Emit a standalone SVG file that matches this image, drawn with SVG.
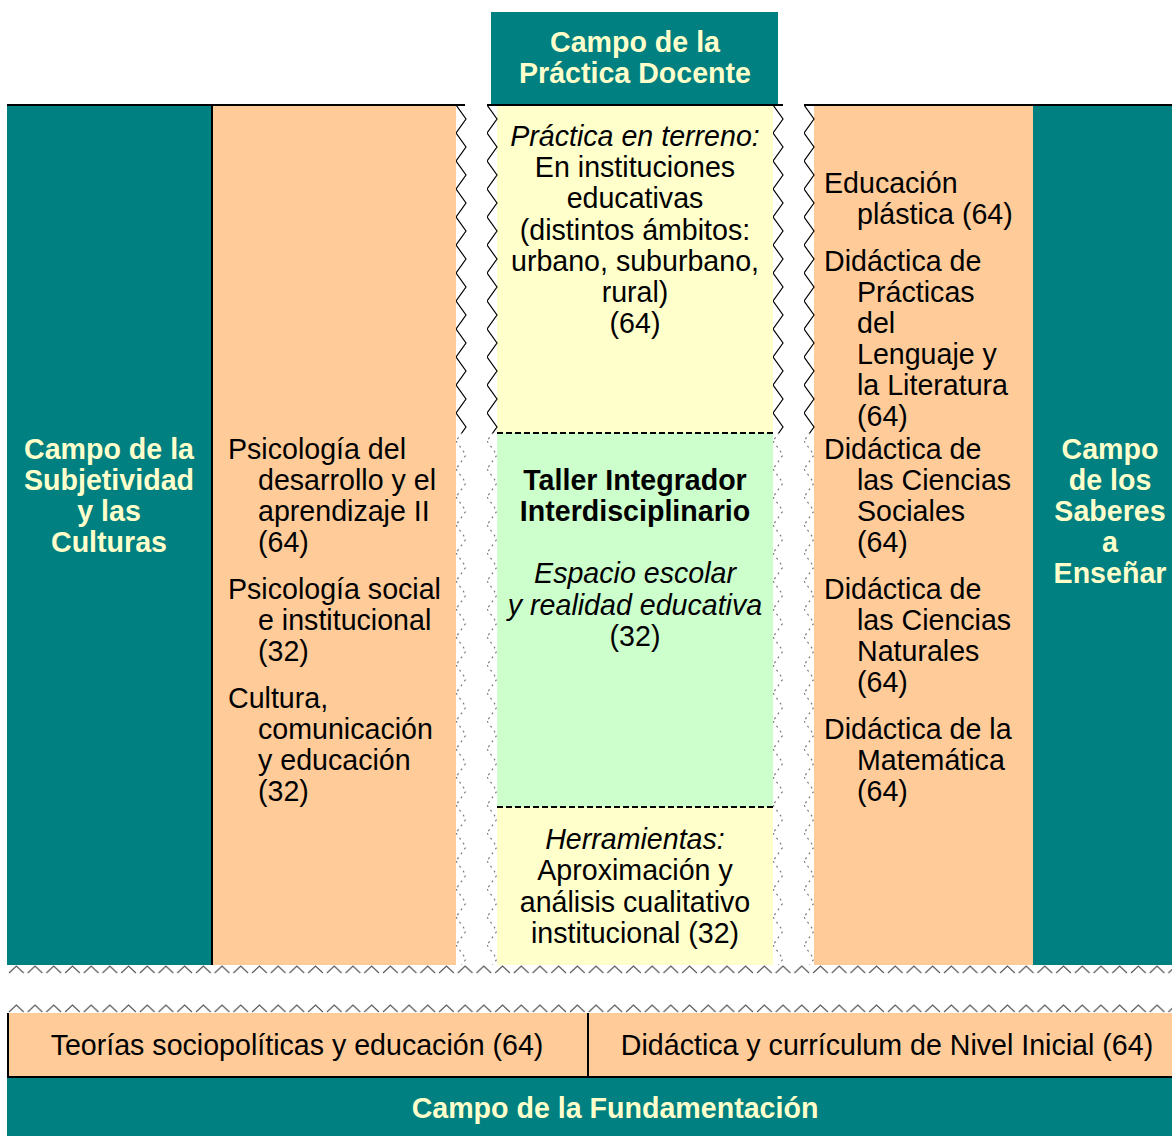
<svg xmlns="http://www.w3.org/2000/svg" width="1172" height="1136" viewBox="0 0 1172 1136">
<style>
.teal{fill:#008080}
.peach{fill:#FFCC99}
.yel{fill:#FFFFCC}
.grn{fill:#CCFFCC}
text{font-family:"Liberation Sans",Arial,sans-serif;font-size:28.6px;fill:#000}
.h{font-weight:bold;fill:#FFFFCC;text-anchor:middle}
.b{font-weight:bold}
.i{font-style:italic}
.c{text-anchor:middle}
</style>
<defs>
<pattern id="zv" patternUnits="userSpaceOnUse" width="12" height="28">
<path d="M0,0 L10,14 L0,28" fill="none" stroke="#000" stroke-width="1.2"/>
</pattern>
<pattern id="zvf" patternUnits="userSpaceOnUse" width="12" height="28">
<path d="M0,0 L10,14 L0,28" fill="none" stroke="#777" stroke-width="1.2" stroke-dasharray="2 4"/>
</pattern>
<pattern id="zh" patternUnits="userSpaceOnUse" width="18.7" height="9">
<path d="M2,8 L9.35,1 L16.7,8" fill="none" stroke="#555" stroke-width="1.1"/>
</pattern>
</defs>

<g id="practica-head">
<rect class="teal" x="491" y="12" width="287" height="93"/>
<text class="h" x="635" y="52">Campo de la</text>
<text class="h" x="635" y="83">Práctica Docente</text>
</g>

<g id="subjetividad">
<rect class="teal" x="7" y="105" width="205" height="860"/>
<text class="h" x="109" y="459">Campo de la</text>
<text class="h" x="109" y="490">Subjetividad</text>
<text class="h" x="109" y="521">y las</text>
<text class="h" x="109" y="552">Culturas</text>
</g>

<g id="psicologia">
<rect class="peach" x="212" y="105" width="244" height="860"/>
<text x="228" y="459">Psicología del</text>
<text x="258" y="490">desarrollo y el</text>
<text x="258" y="521">aprendizaje II</text>
<text x="258" y="552">(64)</text>
<text x="228" y="599">Psicología social</text>
<text x="258" y="630">e institucional</text>
<text x="258" y="661">(32)</text>
<text x="228" y="708">Cultura,</text>
<text x="258" y="739">comunicación</text>
<text x="258" y="770">y educación</text>
<text x="258" y="801">(32)</text>
</g>

<g id="centro">
<rect class="yel" x="497" y="105" width="276" height="328"/>
<rect class="grn" x="497" y="433" width="276" height="374"/>
<rect class="yel" x="497" y="807" width="276" height="158"/>
<text class="c i" x="635" y="146">Práctica en terreno:</text>
<text class="c" x="635" y="177">En instituciones</text>
<text class="c" x="635" y="208">educativas</text>
<text class="c" x="635" y="240">(distintos ámbitos:</text>
<text class="c" x="635" y="271">urbano, suburbano,</text>
<text class="c" x="635" y="302">rural)</text>
<text class="c" x="635" y="333">(64)</text>
<text class="c b" x="635" y="490">Taller Integrador</text>
<text class="c b" x="635" y="521">Interdisciplinario</text>
<text class="c i" x="635" y="583">Espacio escolar</text>
<text class="c i" x="635" y="615">y realidad educativa</text>
<text class="c" x="635" y="646">(32)</text>
<text class="c i" x="635" y="849">Herramientas:</text>
<text class="c" x="635" y="880">Aproximación y</text>
<text class="c" x="635" y="912">análisis cualitativo</text>
<text class="c" x="635" y="943">institucional (32)</text>
</g>

<g id="didacticas">
<rect class="peach" x="814" y="105" width="219" height="860"/>
<text x="824" y="193">Educación</text>
<text x="857" y="224">plástica (64)</text>
<text x="824" y="271">Didáctica de</text>
<text x="857" y="302">Prácticas</text>
<text x="857" y="333">del</text>
<text x="857" y="364">Lenguaje y</text>
<text x="857" y="395">la Literatura</text>
<text x="857" y="426">(64)</text>
<text x="824" y="459">Didáctica de</text>
<text x="857" y="490">las Ciencias</text>
<text x="857" y="521">Sociales</text>
<text x="857" y="552">(64)</text>
<text x="824" y="599">Didáctica de</text>
<text x="857" y="630">las Ciencias</text>
<text x="857" y="661">Naturales</text>
<text x="857" y="692">(64)</text>
<text x="824" y="739">Didáctica de la</text>
<text x="857" y="770">Matemática</text>
<text x="857" y="801">(64)</text>
</g>

<g id="saberes">
<rect class="teal" x="1033" y="105" width="139" height="860"/>
<text class="h" x="1110" y="459">Campo</text>
<text class="h" x="1110" y="490">de los</text>
<text class="h" x="1110" y="521">Saberes</text>
<text class="h" x="1110" y="552">a</text>
<text class="h" x="1110" y="583">Enseñar</text>
</g>

<g id="teorias">
<rect class="peach" x="7" y="1013" width="581" height="65"/>
<text class="c" x="297" y="1055">Teorías sociopolíticas y educación (64)</text>
</g>

<g id="didactica-curriculum">
<rect class="peach" x="588" y="1013" width="584" height="65"/>
<text class="c" x="887" y="1055">Didáctica y currículum de Nivel Inicial (64)</text>
</g>

<g id="fundamentacion">
<rect class="teal" x="7" y="1078" width="1165" height="58"/>
<text class="h" x="615" y="1118">Campo de la Fundamentación</text>
</g>

<g id="connectors">
<rect x="7" y="104" width="458" height="2" fill="#000"/>
<rect x="487" y="104" width="296" height="2" fill="#000"/>
<rect x="804" y="104" width="368" height="2" fill="#000"/>
<rect x="211" y="105" width="2" height="860" fill="#000"/>
<rect x="7" y="1013" width="2" height="65" fill="#000"/>
<rect x="587" y="1013" width="2" height="65" fill="#000"/>
<rect x="7" y="1076" width="1165" height="2" fill="#000"/>
<line x1="497" y1="433" x2="773" y2="433" stroke="#000" stroke-width="2" stroke-dasharray="6 3"/>
<line x1="497" y1="807" x2="773" y2="807" stroke="#000" stroke-width="2" stroke-dasharray="6 3"/>
<g transform="translate(456,105)"><rect width="12" height="328" fill="url(#zv)"/><rect y="328" width="12" height="532" fill="url(#zvf)"/></g>
<g transform="translate(487,105)"><rect width="12" height="328" fill="url(#zv)"/><rect y="328" width="12" height="532" fill="url(#zvf)"/></g>
<g transform="translate(773,105)"><rect width="12" height="328" fill="url(#zv)"/><rect y="328" width="12" height="532" fill="url(#zvf)"/></g>
<g transform="translate(804,105)"><rect width="12" height="328" fill="url(#zv)"/><rect y="328" width="12" height="532" fill="url(#zvf)"/></g>
<g transform="translate(7,965)"><rect width="1165" height="9" fill="url(#zh)"/></g>
<g transform="translate(7,1004)"><rect width="1165" height="9" fill="url(#zh)"/></g>
</g>
</svg>
